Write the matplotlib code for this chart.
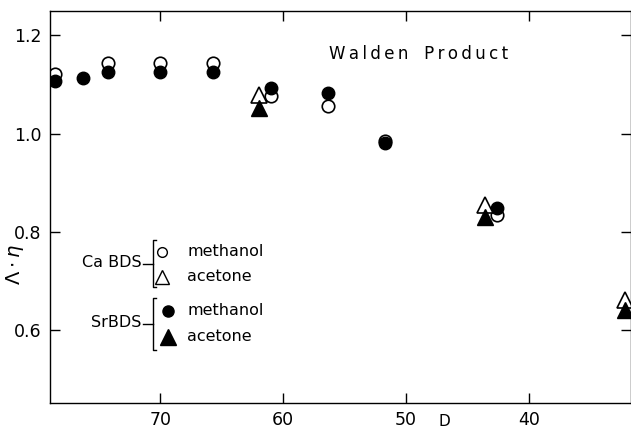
import numpy as np
import matplotlib
matplotlib.use("Agg")
import matplotlib.pyplot as plt

# dielectric constant D and Walden product values
ca_meoh_D = [78.6, 74.3, 70.0, 65.7, 61.0, 56.4, 51.7, 42.6]
ca_meoh_W = [1.121, 1.143, 1.143, 1.143, 1.076, 1.056, 0.985, 0.835]
sr_meoh_D = [78.6, 76.3, 74.3, 70.0, 65.7, 61.0, 56.4, 51.7, 42.6]
sr_meoh_W = [1.107, 1.113, 1.125, 1.125, 1.125, 1.092, 1.082, 0.981, 0.849]
ca_acet_D = [62.0, 43.6, 32.2]
ca_acet_W = [1.078, 0.855, 0.662]
sr_acet_D = [62.0, 43.6, 32.2]
sr_acet_W = [1.052, 0.830, 0.642]

xticks = [70, 60, 50, 40]
yticks = [0.6, 0.8, 1.0, 1.2]

plt.rcParams['font.family'] = ['DejaVu Sans']
fig = plt.figure(figsize=(6.31, 4.30), dpi=100)
ax = fig.add_axes([0.079, 0.063, 0.921, 0.911])

ms = 9
ax.plot(ca_meoh_D, ca_meoh_W, 'o', mfc='white', mec='black', mew=1.2, ms=ms, ls='none')
ax.plot(sr_meoh_D, sr_meoh_W, 'o', mfc='black', mec='black', ms=ms, ls='none')
ax.plot(ca_acet_D, ca_acet_W, '^', mfc='white', mec='black', mew=1.2, ms=ms + 2, ls='none')
ax.plot(sr_acet_D, sr_acet_W, '^', mfc='black', mec='black', ms=ms + 2, ls='none')

ax.set_xlim(79.0, 31.7)
ax.set_ylim(0.452, 1.249)
ax.set_xticks(xticks)
ax.set_yticks(yticks)
ax.set_xticklabels([str(t) for t in xticks])
ax.set_yticklabels(["%.1f" % t for t in yticks])
ax.tick_params(direction='in', length=7, width=1, top=True, right=True,
               labelsize=12.5, pad=6)
for s in ax.spines.values():
    s.set_linewidth(1.0)

title = "\u2009".join("Walden") + "   " + "\u2009".join("Product")
ax.text(0.48, 0.89, title, transform=ax.transAxes, fontsize=12, ha='left', va='center')

# legend built by hand
tr = ax.transAxes
ax.plot([0.193], [0.385], 'o', mfc='white', mec='black', ms=7, transform=tr)
ax.plot([0.193], [0.321], '^', mfc='white', mec='black', ms=10, transform=tr)
ax.plot([0.203], [0.235], 'o', mfc='black', mec='black', ms=8, transform=tr)
ax.plot([0.203], [0.168], '^', mfc='black', mec='black', ms=11, transform=tr)
ax.text(0.236, 0.387, "methanol", transform=tr, fontsize=11.5, va='center')
ax.text(0.236, 0.322, "acetone", transform=tr, fontsize=11.5, va='center')
ax.text(0.236, 0.237, "methanol", transform=tr, fontsize=11.5, va='center')
ax.text(0.236, 0.170, "acetone", transform=tr, fontsize=11.5, va='center')
ax.text(0.158, 0.358, "Ca BDS", transform=tr, fontsize=11.5, va='center', ha='right')
ax.text(0.158, 0.204, "SrBDS", transform=tr, fontsize=11.5, va='center', ha='right')
# brackets
for top, bot in [(0.415, 0.296), (0.268, 0.135)]:
    mid = (top + bot) / 2
    ax.plot([0.183, 0.177, 0.177, 0.183], [top, top, bot, bot],
            color='black', lw=1.0, transform=tr, clip_on=False)
    ax.plot([0.160, 0.177], [mid, mid], color='black', lw=1.0, transform=tr,
            clip_on=False)

fig.text(0.024, 0.385, r"$\Lambda\cdot\eta$", rotation=90, fontsize=14,
         ha='center', va='center')
fig.text(0.705, 0.002, "D", fontsize=11, ha='center', va='bottom')

fig.savefig("out.png", dpi=100)
